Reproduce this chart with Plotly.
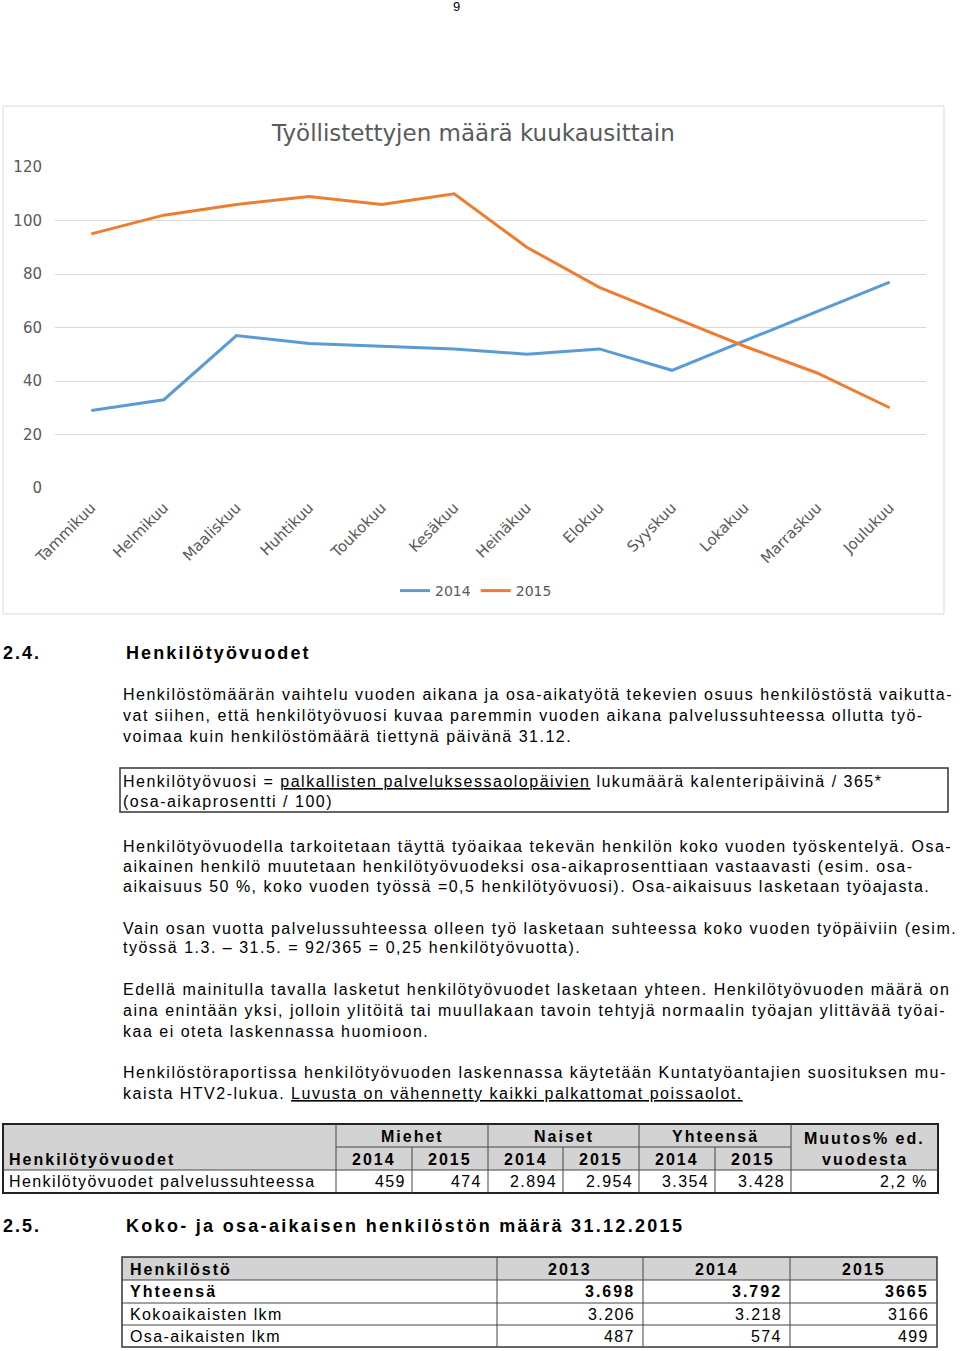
import plotly.graph_objects as go

# --- chart data ---
months = ["Tammikuu", "Helmikuu", "Maaliskuu", "Huhtikuu", "Toukokuu", "Kesäkuu",
          "Heinäkuu", "Elokuu", "Syyskuu", "Lokakuu", "Marraskuu", "Joulukuu"]
values_2014 = [29, 33, 57, 54, 53, 52, 50, 52, 44, 55, 66, 77]
values_2015 = [95, 102, 106, 109, 106, 110, 90, 75, 64, 53, 43, 30]
y_ticks = [0, 20, 40, 60, 80, 100, 120]

# --- table 2.4 data ---
htv_groups = ["Miehet", "Naiset", "Yhteensä"]
htv_years = ["2014", "2015", "2014", "2015", "2014", "2015"]
htv_values = ["459", "474", "2.894", "2.954", "3.354", "3.428"]
htv_change = "2,2 %"

# --- table 2.5 data ---
staff_years = ["2013", "2014", "2015"]
staff_rows = ["Yhteensä", "Kokoaikaisten lkm", "Osa-aikaisten lkm"]
staff_total = ["3.698", "3.792", "3665"]
staff_full = ["3.206", "3.218", "3166"]
staff_part = ["487", "574", "499"]

body_lines = [
    (694, "Henkilöstömäärän vaihtelu vuoden aikana ja osa-aikatyötä tekevien osuus henkilöstöstä vaikutta-"),
    (715, "vat siihen, että henkilötyövuosi kuvaa paremmin vuoden aikana palvelussuhteessa ollutta työ-"),
    (736, "voimaa kuin henkilöstömäärä tiettynä päivänä 31.12."),
    (781, "Henkilötyövuosi = <span style='text-decoration:underline'>palkallisten palveluksessaolopäivien</span> lukumäärä kalenteripäivinä / 365*"),
    (801, "(osa-aikaprosentti / 100)"),
    (846, "Henkilötyövuodella tarkoitetaan täyttä työaikaa tekevän henkilön koko vuoden työskentelyä. Osa-"),
    (866, "aikainen henkilö muutetaan henkilötyövuodeksi osa-aikaprosenttiaan vastaavasti (esim. osa-"),
    (887, "aikaisuus 50 %, koko vuoden työssä =0,5 henkilötyövuosi). Osa-aikaisuus lasketaan työajasta."),
    (928, "Vain osan vuotta palvelussuhteessa olleen työ lasketaan suhteessa koko vuoden työpäiviin (esim."),
    (948, "työssä 1.3. – 31.5. = 92/365 = 0,25 henkilötyövuotta)."),
    (990, "Edellä mainitulla tavalla lasketut henkilötyövuodet lasketaan yhteen. Henkilötyövuoden määrä on"),
    (1010, "aina enintään yksi, jolloin ylitöitä tai muullakaan tavoin tehtyjä normaalin työajan ylittävää työai-"),
    (1031, "kaa ei oteta laskennassa huomioon."),
    (1072, "Henkilöstöraportissa henkilötyövuoden laskennassa käytetään Kuntatyöantajien suosituksen mu-"),
    (1093, "kaista HTV2-lukua. <span style='text-decoration:underline'>Luvusta on vähennetty kaikki palkattomat poissaolot.</span>"),
]

W, H = 960, 1351
BODY = "Liberation Sans"
CHART_FONT = "DejaVu Sans"
GREY = "#595959"


def px(x):
    return x / W


def py(y):
    return 1 - y / H


annotations = []
shapes = []


def text(x, y, s, size=16, bold=False, anchor="left", spacing=1.5, color="black", family=BODY):
    if bold:
        s = "<b>" + s + "</b>"
    s = "<span style='letter-spacing:%spx'>%s</span>" % (spacing, s)
    annotations.append(dict(x=px(x), y=py(y), xref="paper", yref="paper", text=s,
                            showarrow=False, xanchor=anchor, yanchor="middle",
                            font=dict(family=family, size=size, color=color), borderpad=0))


def line(x0, y0, x1, y1, width=1, color="#444444"):
    shapes.append(dict(type="line", xref="paper", yref="paper", x0=px(x0), y0=py(y0),
                       x1=px(x1), y1=py(y1), line=dict(color=color, width=width)))


def rect(x0, y0, x1, y1, fill=None, width=1, color="#444444"):
    shapes.append(dict(type="rect", xref="paper", yref="paper", x0=px(x0), y0=py(y0),
                       x1=px(x1), y1=py(y1), fillcolor=fill or "rgba(0,0,0,0)",
                       line=dict(color=color, width=width), layer="below"))


fig = go.Figure()
fig.add_trace(go.Scatter(x=months, y=values_2014, name="2014", mode="lines",
                         line=dict(color="#5B9BD5", width=3)))
fig.add_trace(go.Scatter(x=months, y=values_2015, name="2015", mode="lines",
                         line=dict(color="#ED7D31", width=3)))

# chart frame + title
rect(3, 106, 944, 614, color="#d9d9d9", width=1)
annotations.append(dict(x=px(473), y=py(133), xref="paper", yref="paper",
                        text="Työllistettyjen määrä kuukausittain", showarrow=False,
                        xanchor="center", yanchor="middle",
                        font=dict(family=CHART_FONT, size=23, color=GREY)))

# page number
text(456, 6, "9", size=13, anchor="center", spacing=0)

# section 2.4
text(2, 653, "2.4.", size=18, bold=True, spacing=2)
text(125, 653, "Henkilötyövuodet", size=18, bold=True, spacing=2.1)
for y, s in body_lines:
    text(122, y, s)
rect(120, 768, 948, 812, width=1.5, color="#333333")

# table 2.4
t_left, t_right = 3, 938
t_rows = [1124, 1147, 1170, 1193]
t_cols = [336, 412, 488, 563, 639, 715, 791]
rect(t_left, t_rows[0], t_right, t_rows[2], fill="#d3d3d3", width=0)
for i, x in enumerate(t_cols):
    top = t_rows[0] if i % 2 == 0 else t_rows[1]
    line(x, top, x, t_rows[3])
for i in range(3):
    line(t_cols[2 * i], t_rows[1], t_cols[2 * i + 2], t_rows[1])
line(t_left, t_rows[2], t_right, t_rows[2])
rect(t_left, t_rows[0], t_right, t_rows[3], width=2, color="#222222")
for i, g in enumerate(htv_groups):
    text((t_cols[2 * i] + t_cols[2 * i + 2]) / 2, 1136, g, bold=True, anchor="center", spacing=2)
text((t_cols[6] + t_right) / 2, 1138, "Muutos% ed.", bold=True, anchor="center", spacing=2)
text((t_cols[6] + t_right) / 2, 1159, "vuodesta", bold=True, anchor="center", spacing=2)
text(8, 1159, "Henkilötyövuodet", bold=True, spacing=2)
for i, yr in enumerate(htv_years):
    text((t_cols[i] + t_cols[i + 1]) / 2, 1159, yr, bold=True, anchor="center", spacing=2)
text(8, 1181, "Henkilötyövuodet palvelussuhteessa", spacing=1.4)
for i, v in enumerate(htv_values):
    text(t_cols[i + 1] - 5, 1181, v, anchor="right", spacing=1.4)
text(t_right - 9, 1181, htv_change, anchor="right", spacing=1.4)

# section 2.5
text(2, 1226, "2.5.", size=18, bold=True, spacing=2)
text(125, 1226, "Koko- ja osa-aikaisen henkilöstön määrä 31.12.2015", size=18, bold=True, spacing=2.3)

s_left, s_right = 122, 937
s_rows = [1257, 1280, 1303, 1325, 1347]
s_cols = [497, 643, 790]
rect(s_left, s_rows[0], s_right, s_rows[1], fill="#d3d3d3", width=0)
for x in s_cols:
    line(x, s_rows[0], x, s_rows[4])
for y in s_rows[1:4]:
    line(s_left, y, s_right, y)
rect(s_left, s_rows[0], s_right, s_rows[4], width=1.5, color="#333333")
col_edges = s_cols + [s_right]
text(129, 1269, "Henkilöstö", bold=True, spacing=2)
for i, yr in enumerate(staff_years):
    text((col_edges[i] + col_edges[i + 1]) / 2, 1269, yr, bold=True, anchor="center", spacing=2)
row_values = [staff_total, staff_full, staff_part]
for r, (name, vals) in enumerate(zip(staff_rows, row_values)):
    yc = (s_rows[r + 1] + s_rows[r + 2]) / 2
    bold = r == 0
    text(129, yc, name, bold=bold, spacing=2 if bold else 1.4)
    for i, v in enumerate(vals):
        text(col_edges[i + 1] - 7, yc, v, bold=bold, anchor="right", spacing=2 if bold else 1.4)

fig.update_layout(
    width=W, height=H,
    margin=dict(l=0, r=0, t=0, b=0, autoexpand=False),
    paper_bgcolor="white", plot_bgcolor="white",
    showlegend=True,
    legend=dict(orientation="h", x=px(476), y=py(591), xanchor="center", yanchor="middle",
                font=dict(family=CHART_FONT, size=14, color=GREY), itemwidth=30,
                bgcolor="rgba(0,0,0,0)"),
    xaxis=dict(domain=[px(55), px(926)], range=[-0.5, 11.5], tickangle=-45,
               showgrid=False, showline=False, zeroline=False, ticks="", automargin=False,
               ticklabelstandoff=7,
               tickfont=dict(family=CHART_FONT, size=15, color=GREY), anchor="y"),
    yaxis=dict(domain=[py(488), py(167)], range=[0, 120], tickvals=y_ticks,
               showgrid=True, gridcolor="#d9d9d9", gridwidth=1, zeroline=False,
               showline=False, ticks="", ticklabelstandoff=12, automargin=False,
               tickfont=dict(family=CHART_FONT, size=15, color=GREY)),
    annotations=annotations,
    shapes=shapes,
    hovermode=False,
)

# page body has a default 8px margin; drop it so the figure fills the window exactly
fig.write_html("out.html", config={"displayModeBar": False},
               post_script="document.body.style.margin='0';")
